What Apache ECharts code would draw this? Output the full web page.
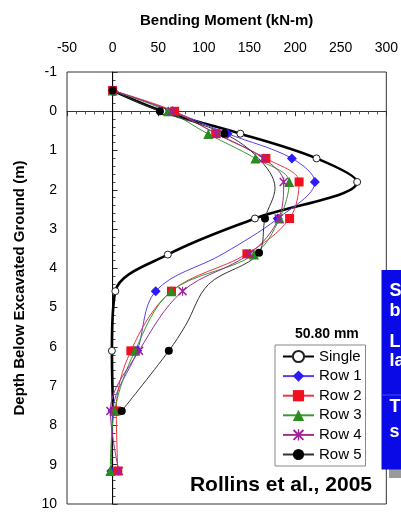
<!DOCTYPE html>
<html>
<head>
<meta charset="utf-8">
<script src="https://cdn.jsdelivr.net/npm/echarts@6/dist/echarts.min.js"></script>
<style>html,body{margin:0;padding:0;background:#fff}#c{width:401px;height:512px}</style>
</head>
<body>
<div id="c"></div>
<script>
// Data (x = bending moment kN-m, y = depth m); 'none' = no marker drawn
var seriesNames = ['Single', 'Row 1', 'Row 2', 'Row 3', 'Row 4', 'Row 5'];
var singleData = [[0,-0.53],[55,0],[140,0.57],[223.5,1.2],[268,1.8],[156,2.73],[60.5,3.65],[3,4.58],[-0.8,6.1],[0.5,7.63]];
var row1Data = [[0,-0.53],[66,0],[126,0.57],[196.5,1.2],[221.7,1.8],[181,2.73],[121,3.63,'none'],[47.2,4.58],[27,6.1],[0,7.63],[-1.4,9.16]];
var row2Data = [[0,-0.53],[68,0],[113,0.57],[168,1.2],[204.4,1.8],[194,2.73],[147.2,3.63],[64.5,4.58],[20,6.1],[4,7.63],[5.7,9.16]];
var row3Data = [[0,-0.53],[60.8,0],[104.8,0.58],[156.5,1.2],[193.6,1.8],[183,2.73],[155,3.65],[64.5,4.58],[24.5,6.1],[2,7.63],[-2.5,9.16]];
var row4Data = [[0,-0.53],[65,0],[114,0.57],[165,1.2],[187.5,1.8],[182,2.73],[150,3.63],[76.7,4.58],[29,6.1],[-2.5,7.63],[6.8,9.16]];
var row5Data = [[0,-0.53],[51.8,0],[122.5,0.57],[160,1.2,'none'],[178,1.95,'none'],[167,2.73],[160.5,3.6],[105,4.41,'none'],[80,5.45,'none'],[61.6,6.1],[10,7.63]];
var zeroLine = [[0,-1],[0,10]];
var xTicks = {min:-50, max:300, interval:50};
var yTicks = {min:-1, max:10, interval:1};

var FONT = 'Liberation Sans, Arial, Helvetica, sans-serif';
function toData(arr){
  return arr.map(function(p){
    var d = {value:[p[0],p[1]]};
    if (p[2] === 'none') d.symbol = 'none';
    return d;
  });
}
var asterisk = 'path://M0,1.2L1.2,0L5,3.8L8.8,0L10,1.2L6.2,5L10,8.8L8.8,10L5,6.2L1.2,10L0,8.8L3.8,5Z M4.4,0L5.6,0L5.6,10L4.4,10Z';
var cfg = [
  {data:singleData, color:'#000000', line:'#000000', width:2.6, symbol:'circle', size:7},
  {data:row1Data, color:'#2b1cf5', line:'#5a3ef0', width:1, symbol:'diamond', size:10},
  {data:row2Data, color:'#f01020', line:'#e8383f', width:1, symbol:'rect', size:9},
  {data:row3Data, color:'#2a8c1f', line:'#3a9a30', width:1, symbol:'triangle', size:10},
  {data:row4Data, color:'#a0209a', line:'#a0308f', width:1, symbol:asterisk, size:9},
  {data:row5Data, color:'#000000', line:'#333333', width:1, symbol:'circle', size:8}
];
var series = [{
  name:'zero', type:'line', data:zeroLine, symbol:'none', z:2,
  itemStyle:{color:'#000'},
  lineStyle:{color:'#000', width:1}, animation:false
}];
cfg.forEach(function(c, i){
  var s = {
    name: seriesNames[i], type:'line', smooth:0.35,
    data: toData(c.data), symbol:c.symbol, symbolSize:c.size,
    showAllSymbol:true, z:3,
    itemStyle:{color:c.color},
    lineStyle:{color:c.line, width:c.width},
    emphasis:{disabled:true}, animation:false
  };
  if (i === 0) { s.itemStyle = {color:'#ffffff', borderColor:'#222222', borderWidth:1, opacity:1}; }
  series.push(s);
});

var chart = echarts.init(document.getElementById('c'), null, {renderer:'canvas'});
chart.setOption({
  backgroundColor:'#fff',
  animation:false,
  textStyle:{fontFamily:FONT},
  grid:{left:67, right:9, top:72, bottom:8, show:true, borderColor:'#333', borderWidth:1},
  xAxis:{
    type:'value', position:'top', min:xTicks.min, max:xTicks.max, interval:xTicks.interval,
    axisLine:{show:true, lineStyle:{color:'#333', width:1}},
    axisTick:{show:true, inside:true, length:5, lineStyle:{color:'#333'}},
    minorTick:{show:true, splitNumber:5, length:3, lineStyle:{color:'#555'}},
    splitLine:{show:false},
    axisLabel:{color:'#000', fontSize:14, fontFamily:FONT, margin:17},
    name:'Bending Moment (kN-m)', nameLocation:'middle', nameGap:44,
    nameTextStyle:{color:'#000', fontSize:15, fontWeight:'bold', fontFamily:FONT}
  },
  yAxis:{
    type:'value', inverse:true, min:yTicks.min, max:yTicks.max, interval:yTicks.interval,
    axisLine:{show:true, lineStyle:{color:'#333', width:1}},
    axisTick:{show:true, inside:true, length:5, lineStyle:{color:'#333'}},
    minorTick:{show:true, splitNumber:5, length:3, lineStyle:{color:'#555'}},
    splitLine:{show:false},
    axisLabel:{color:'#000', fontSize:14, fontFamily:FONT, margin:10},
    name:'Depth Below Excavated Ground (m)', nameLocation:'middle', nameGap:40, nameRotate:90,
    nameTextStyle:{color:'#000', fontSize:15, fontWeight:'bold', fontFamily:FONT}
  },
  legend:{
    show:true, orient:'vertical', left:275, top:345,
    itemWidth:31, itemHeight:14, itemGap:4.6,
    padding:[4,4,4,7],
    borderColor:'#888', borderWidth:1, backgroundColor:'#fff',
    textStyle:{color:'#000', fontSize:15, fontFamily:FONT},
    data:seriesNames, selectedMode:false
  },
  series:series,
  graphic:[
    {type:'text', left:295, top:327, z:100, style:{text:'50.80 mm', font:'bold 14px ' + FONT, fill:'#000'}},
    {type:'text', right:29, top:475, z:100, style:{text:'Rollins et al., 2005', font:'bold 21px ' + FONT, fill:'#000'}},
    {type:'rect', shape:{x:389, y:276, width:20, height:202}, z:100, style:{fill:'#9a9a9a'}},
    {type:'rect', shape:{x:381.5, y:270, width:25, height:199.5}, z:101, style:{fill:'#0a0ae6'}},
    {type:'line', shape:{x1:381.5, y1:395, x2:401, y2:395}, z:102, style:{stroke:'#4a4af0', lineWidth:1}},
    {type:'text', x:389.5, y:282, z:103, style:{text:'S', font:'bold 18px ' + FONT, fill:'#fff'}},
    {type:'text', x:389.5, y:302, z:103, style:{text:'b', font:'bold 18px ' + FONT, fill:'#fff'}},
    {type:'text', x:389.5, y:333, z:103, style:{text:'L', font:'bold 18px ' + FONT, fill:'#fff'}},
    {type:'text', x:389.5, y:352, z:103, style:{text:'la', font:'bold 18px ' + FONT, fill:'#fff'}},
    {type:'text', x:389.5, y:398, z:103, style:{text:'T', font:'bold 18px ' + FONT, fill:'#fff'}},
    {type:'text', x:389.5, y:423, z:103, style:{text:'s', font:'bold 18px ' + FONT, fill:'#fff'}}
  ]
});
</script>
</body>
</html>
